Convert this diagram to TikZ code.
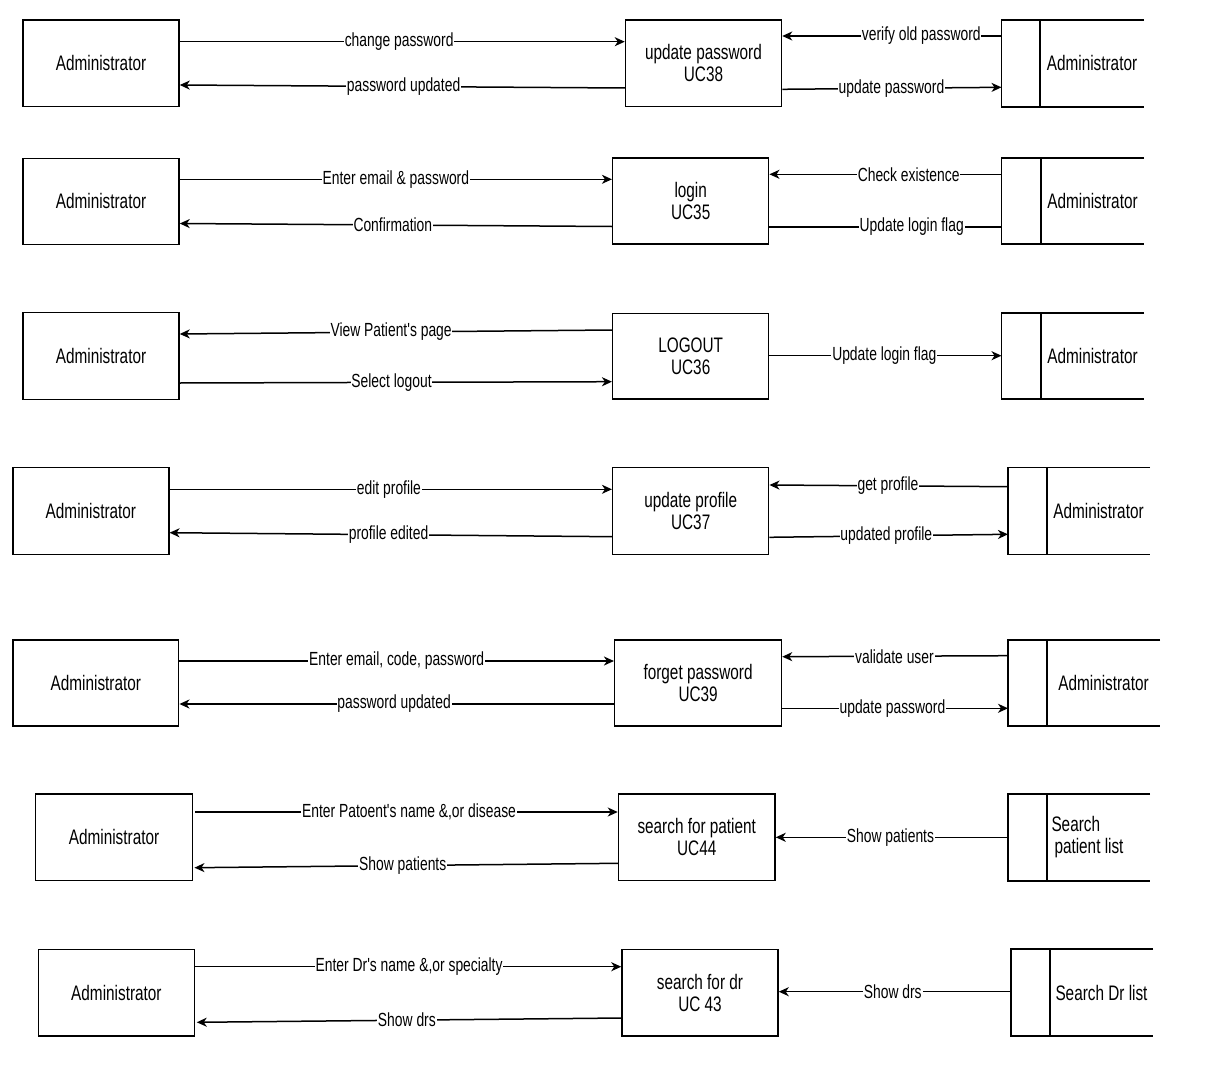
\documentclass[tikz,border=0pt]{standalone}
\usepackage{fontspec}
\setmainfont{Liberation Sans}
\newfontfamily\narrowsans{Liberation Sans}[FakeStretch=0.73]
\usetikzlibrary{arrows.meta}

\newcommand\nodefont{\narrowsans\fontsize{21}{22}\selectfont}
\newcommand\lblfont{\narrowsans\fontsize{19}{20}\selectfont}

% box given by its left, right, top and bottom edges
\newcommand\bx[7]{%
  \node[#2, minimum width={#4-#3}, minimum height={#6-#5}] (#1)
    at ({(#3+#4)/2},{(#5+#6)/2}) {#7};}

% data store: open on the right, small compartment on the left
% args: name, left edge, divider, right end, top, bottom, text
\newcommand\dstore[7]{%
  \node[storetxt, minimum width={#4-#3}, minimum height={#6-#5}] (#1)
    at ({(#3+#4)/2},{(#5+#6)/2}) {#7};
  \coordinate (#1w) at ({#2},{(#5+#6)/2});
  \draw[plain] (#1.north east) -- (#1w |- #1.north) -- (#1w |- #1.south) -- (#1.south east);
  \draw[plain] (#1.north west) -- (#1.south west);}

\tikzset{
  ext/.style={draw, line width=1.5pt, font=\nodefont, inner sep=0pt},
  proc/.style={draw, line width=1.5pt, align=center, font=\nodefont, inner sep=0pt},
  storetxt/.style={font=\nodefont, align=center, inner sep=0pt},
  plain/.style={line width=1.5pt},
  flow/.style={line width=1.5pt, -{Stealth[length=10pt,width=9pt,inset=3pt]}},
  lbl/.style={fill=white, inner xsep=0.8pt, inner ysep=0.5pt, font=\lblfont},
}

\begin{document}
\begin{tikzpicture}[x=1pt,y=-1pt]
\fill[white] (0,0) rectangle (1205,1065);
\useasboundingbox (0,0) rectangle (1205,1065);

% ---- update password
\bx{a1}{ext}{23}{179}{20}{106.7}{Administrator}
\bx{p1}{proc}{625.5}{781.5}{20}{106.7}{update password\\UC38}
\dstore{s1}{1001.5}{1040}{1144}{20}{106.7}{Administrator}
\draw[flow] (a1.east |- 0,41.7) -- node[lbl,pos=0.493]{change password} (p1.west |- 0,41.7);
\draw[flow] (p1.west |- 0,88) -- node[lbl,pos=0.497]{password updated} (a1.east |- 0,85);
\draw[flow] (s1w |- 0,36) -- node[lbl,pos=0.366]{verify old password} (p1.east |- 0,36);
\draw[flow] (p1.east |- 0,89.3) -- node[lbl,pos=0.498]{update password} (s1w |- 0,87.3);

% ---- login
\bx{a2}{ext}{23}{179}{158.3}{244.3}{Administrator}
\bx{p2}{proc}{612.7}{768.7}{158}{244}{login\\UC35}
\dstore{s2}{1001.5}{1041}{1144}{158}{244}{Administrator}
\draw[flow] (a2.east |- 0,179.3) -- node[lbl,pos=0.5]{Enter email \& password} (p2.west |- 0,179.3);
\draw[flow] (p2.west |- 0,226.5) -- node[lbl,pos=0.507]{Confirmation} (a2.east |- 0,223.5);
\draw[flow] (s2w |- 0,174.3) -- node[lbl,pos=0.40]{Check existence} (p2.east |- 0,174.3);
\draw[plain] (p2.east |- 0,227) -- node[lbl,pos=0.613]{Update login flag} (s2w |- 0,227);

% ---- logout
\bx{a3}{ext}{23}{179}{312.7}{399.3}{Administrator}
\bx{p3}{proc}{612.7}{768.7}{313.3}{399}{LOGOUT\\UC36}
\dstore{s3}{1001.5}{1041}{1144}{313}{399}{Administrator}
\draw[flow] (p3.west |- 0,330) -- node[lbl,pos=0.511]{View Patient's page} (a3.east |- 0,334);
\draw[flow] (a3.east |- 0,383) -- node[lbl,pos=0.49]{Select logout} (p3.west |- 0,381.7);
\draw[flow] (p3.east |- 0,355.7) -- node[lbl,pos=0.495]{Update login flag} (s3w |- 0,355.7);

% ---- update profile
\bx{a4}{ext}{13}{168.8}{467.7}{554.3}{Administrator}
\bx{p4}{proc}{612.7}{768.7}{467.7}{554.3}{update profile\\UC37}
\dstore{s4}{1008}{1047}{1150}{467.7}{554.3}{Administrator}
\draw[flow] (a4.east |- 0,489.3) -- node[lbl,pos=0.496]{edit profile} (p4.west |- 0,489.3);
\draw[flow] (p4.west |- 0,536.7) -- node[lbl,pos=0.505]{profile edited} (a4.east |- 0,532.7);
\draw[flow] (s4w |- 0,486.7) -- node[lbl,pos=0.503]{get profile} (p4.east |- 0,485);
\draw[flow] (p4.east |- 0,537.3) -- node[lbl,pos=0.49]{updated profile} (s4w |- 0,534.3);

% ---- forget password
\bx{a5}{ext}{13}{178.7}{640}{726}{Administrator}
\bx{p5}{proc}{614.7}{781.5}{640}{726}{forget password\\UC39}
\dstore{s5}{1008}{1047}{1160}{640}{726}{Administrator}
\draw[flow] (a5.east |- 0,661) -- node[lbl,pos=0.5]{Enter email, code, password} (p5.west |- 0,661);
\draw[flow] (p5.west |- 0,704) -- node[lbl,pos=0.506]{password updated} (a5.east |- 0,704);
\draw[flow] (s5w |- 0,655.7) -- node[lbl,pos=0.503]{validate user} (p5.east |- 0,656.7);
\draw[flow] (p5.east |- 0,708.3) -- node[lbl,pos=0.488]{update password} (s5w |- 0,708.3);

% ---- search for patient
\bx{a6}{ext}{35.6}{192.5}{794}{880.7}{Administrator}
\bx{p6}{proc}{618.5}{775}{794}{880.7}{search for patient\\UC44}
\dstore{s6}{1008}{1047}{1150}{794}{880.7}{}
\node[storetxt, align=left, anchor=west] (s6t) at ([xshift=4.5pt]s6.west) {Search\\\hspace{3pt}patient list};
\draw[flow] ([xshift=2pt]a6.east |- 0,812) -- node[lbl,pos=0.506]{Enter Patoent's name \&,or disease} (p6.west |- 0,812);
\draw[flow] (p6.west |- 0,863.3) -- node[lbl,pos=0.508]{Show patients} ([xshift=1.2pt]a6.east |- 0,867.7);
\draw[flow] (s6w |- 0,837.3) -- node[lbl,pos=0.506]{Show patients} (p6.east |- 0,837.3);

% ---- search for doctor
\bx{a7}{ext}{38.3}{194.5}{949.3}{1036}{Administrator}
\bx{p7}{proc}{622}{778}{949.3}{1036}{search for dr\\UC 43}
\dstore{s7}{1011}{1050}{1153}{949.3}{1036}{Search Dr list}
\draw[flow] (a7.east |- 0,966.7) -- node[lbl,pos=0.502]{Enter Dr's name \&,or specialty} (p7.west |- 0,966.7);
\draw[flow] (p7.west |- 0,1018) -- node[lbl,pos=0.505]{Show drs} ([xshift=1.5pt]a7.east |- 0,1022.3);
\draw[flow] (s7w |- 0,991.7) -- node[lbl,pos=0.509]{Show drs} (p7.east |- 0,991.7);

\end{tikzpicture}
\end{document}
